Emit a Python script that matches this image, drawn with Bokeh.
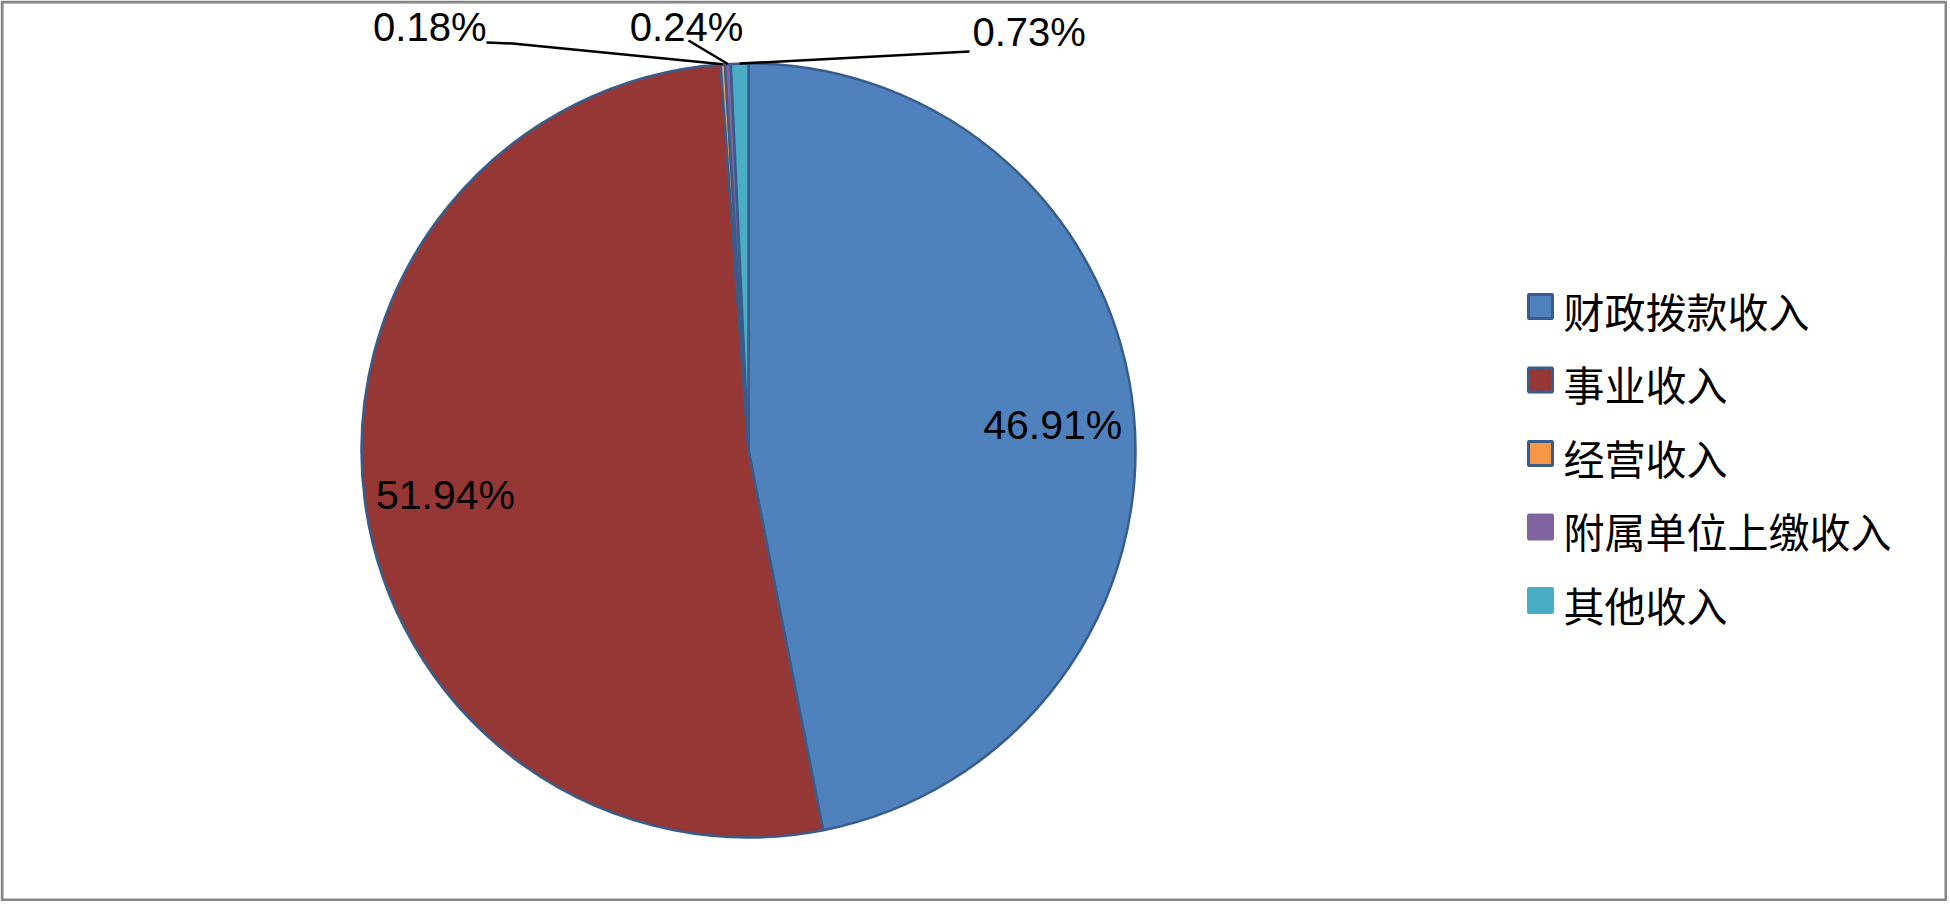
import math
from bokeh.plotting import figure
from bokeh.models import Range1d, ColumnDataSource
from bokeh.embed import file_html
from bokeh.resources import INLINE
from bokeh.core.properties import value

# ---- data ----
categories = ["财政拨款收入", "事业收入", "经营收入", "附属单位上缴收入", "其他收入"]
shares = [46.91, 51.94, 0.18, 0.24, 0.73]

# ---- style ----
colors = ["#4F81BD", "#953735", "#F79646", "#8064A2", "#4BACC6"]
legend_border = [True, True, True, False, False]
OUTLINE = "#385D8A"

W, H = 1947, 901
CX, CY, R = 748, 450, 387  # pixel coords, y measured downward


def Y(y):
    return H - y


p = figure(width=W, height=H, x_range=Range1d(0, W), y_range=Range1d(0, H),
           output_backend="svg", toolbar_location=None, min_border=0)
p.axis.visible = False
p.grid.visible = False
p.outline_line_color = None
p.background_fill_color = "white"
p.border_fill_color = "white"

# frame border
p.quad(left=[1.5], right=[W - 1.5], bottom=[1.5], top=[H - 1.5],
       fill_color=None, line_color="#868686", line_width=3)

total = sum(shares)
cum = [0.0]
for v in shares:
    cum.append(cum[-1] + v / total)
starts = [math.pi / 2 - 2 * math.pi * cum[i] for i in range(len(shares))]
ends = [math.pi / 2 - 2 * math.pi * cum[i + 1] for i in range(len(shares))]
mids = [(s + e) / 2 for s, e in zip(starts, ends)]

src = ColumnDataSource(dict(start=starts, end=ends, color=colors, cat=categories))
p.wedge(x=CX, y=Y(CY), radius=R, start_angle="start", end_angle="end",
        direction="clock", fill_color="color", line_color=OUTLINE, line_width=2.5,
        source=src)

labels = [f"{v:.2f}%" for v in shares]
font_num = value("Liberation Sans")

# inside labels (two large slices)
in_x, in_y, in_t = [], [], []
for i in (0, 1):
    in_x.append(CX + 0.79 * R * math.cos(mids[i]))
    in_y.append(Y(CY) + 0.79 * R * math.sin(mids[i]) - 4)
    in_t.append(labels[i])
p.text(x=in_x, y=in_y, text=in_t, text_font=font_num, text_font_size="41px",
       text_align="center", text_baseline="middle", text_color="black")

# outside labels with leader lines (small slices)
out_anchor = {2: (486, 26, "right"), 3: (686, 26, "center"), 4: (972, 31, "left")}
line_start = {2: [(486, 42), (512, 43)], 3: [(688, 40)], 4: [(969, 51)]}
for i, (ax, ay, al) in out_anchor.items():
    p.text(x=[ax], y=[Y(ay)], text=[labels[i]], text_font=font_num,
           text_font_size="40px", text_align=al, text_baseline="middle",
           text_color="black")
    ex = CX + R * math.cos(mids[i])
    ey = Y(CY) + R * math.sin(mids[i])
    xs = [pt[0] for pt in line_start[i]] + [ex]
    ys = [Y(pt[1]) for pt in line_start[i]] + [ey]
    p.line(xs, ys, line_color="black", line_width=2.5)

# legend (manual)
row_y = [Y(309 + 73.5 * k) for k in range(len(categories))]
sq_y = [y + 3 for y in row_y]
p.rect(x=[1540] * len(categories), y=sq_y, width=24, height=24,
       fill_color=colors,
       line_color=[OUTLINE if b else c for b, c in zip(legend_border, colors)],
       line_width=3)
p.text(x=[1563] * len(categories), y=row_y, text=categories,
       text_font=value("Noto Sans CJK SC"), text_font_size="41px",
       text_align="left", text_baseline="middle", text_color="black")

open("out.html", "w").write(file_html(p, INLINE))
